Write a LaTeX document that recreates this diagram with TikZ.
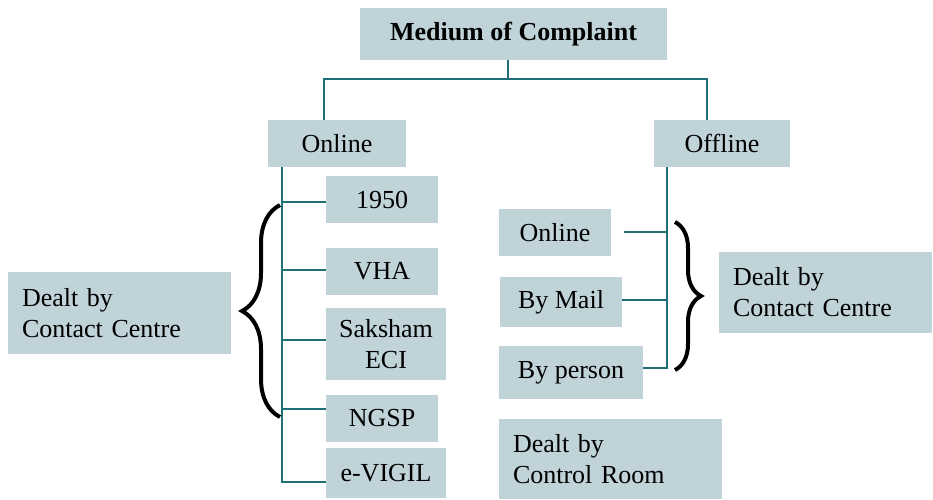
\documentclass[tikz,border=0pt]{standalone}
\usepackage{fontspec}
\setmainfont{Liberation Serif}
\usetikzlibrary{decorations.pathreplacing}
\definecolor{boxfill}{HTML}{BFD3D9}
\definecolor{linkteal}{HTML}{1F6F78}

\begin{document}
\begin{tikzpicture}[x=0.5pt, y=-0.5pt,
  box/.style={shape=rectangle, fill=boxfill, inner sep=0pt, align=center, font={\fontsize{13}{15.5}\selectfont}},
  dealt/.style={box, align=left, inner xsep=7pt, text width=97.5pt},
  link/.style={draw=linkteal, line width=1pt},
  bracket/.style={draw=black, line width=2pt, decorate, decoration={brace, amplitude=#1}}]
\useasboundingbox (0,0) rectangle (933,499);
% top level
\node[box, minimum width=153.5pt, minimum height=26pt, font={\fontsize{13}{15.5}\selectfont\bfseries}] (medium) at (513.5, 34) {Medium of Complaint};
\node[box, minimum width=69pt, minimum height=23.5pt] (online) at (337, 143.5) {Online};
\node[box, minimum width=68pt, minimum height=23.5pt] (offline) at (722, 143.5) {Offline};
% online channels
\node[box, minimum width=56pt, minimum height=23.5pt] (n1950) at (382, 199.5) {1950};
\node[box, minimum width=56pt, minimum height=23.5pt] (vha) at (382, 271.5) {VHA};
\node[box, minimum width=60pt, minimum height=36pt] (saksham) at (386, 344) {Saksham\\ECI};
\node[box, minimum width=56pt, minimum height=23.5pt] (ngsp) at (382, 418.5) {NGSP};
\node[box, minimum width=60pt, minimum height=25pt] (evigil) at (386, 473) {e-VIGIL};
\node[dealt, minimum height=41pt] (leftdealt) at (119.5, 313) {Dealt by\\Contact Centre};
% offline channels
\node[box, minimum width=56pt, minimum height=23.5pt] (offonline) at (555, 232.5) {Online};
\node[box, minimum width=61pt, minimum height=25pt] (bymail) at (561, 302) {By Mail};
\node[box, minimum width=72pt, minimum height=26.5pt] (byperson) at (571, 372.5) {By person};
\node[dealt, text width=92.5pt, minimum height=40.5pt] (rightdealt) at (825.5, 292.5) {Dealt by\\Contact Centre};
\node[dealt, minimum height=40pt] (controlroom) at (610.5, 459) {Dealt by\\Control Room};
% tree lines
\coordinate (split) at (508, 79);
\coordinate (lbend) at (324, 79);
\coordinate (rbend) at (707, 79);
\path [link] (split |- medium.south) edge (split);
\draw [link] (lbend |- online.north) -- (lbend) -- (rbend) -- (rbend |- offline.north);
\coordinate (b1) at (282, 202);
\coordinate (b2) at (282, 270);
\coordinate (b3) at (282, 340);
\coordinate (b4) at (282, 409);
\coordinate (b5) at (282, 482);
\draw [link] (b5 |- online.south) -- (b5) -- (b5 -| evigil.west);
\path [link] (b1) edge (b1 -| n1950.west);
\path [link] (b2) edge (b2 -| vha.west);
\path [link] (b3) edge (b3 -| saksham.west);
\path [link] (b4) edge (b4 -| ngsp.west);
\coordinate (r1) at (667, 232);
\coordinate (r2) at (667, 300);
\coordinate (r3) at (667, 368);
\draw [link] (r3 |- offline.south) -- (r3) -- (r3 -| byperson.east);
\path [link] (r1) edge[shorten >=6.5pt] (r1 -| offonline.east);
\path [link] (r2) edge (r2 -| bymail.east);
% braces
\coordinate (lbrace-lo) at (280, 417);
\coordinate (lbrace-hi) at (280, 205);
\coordinate (rbrace-hi) at (675, 222);
\coordinate (rbrace-lo) at (675, 370);
\draw [bracket=19pt] (lbrace-lo) -- (lbrace-hi);
\draw [bracket=13pt] (rbrace-hi) -- (rbrace-lo);
\end{tikzpicture}
\end{document}
